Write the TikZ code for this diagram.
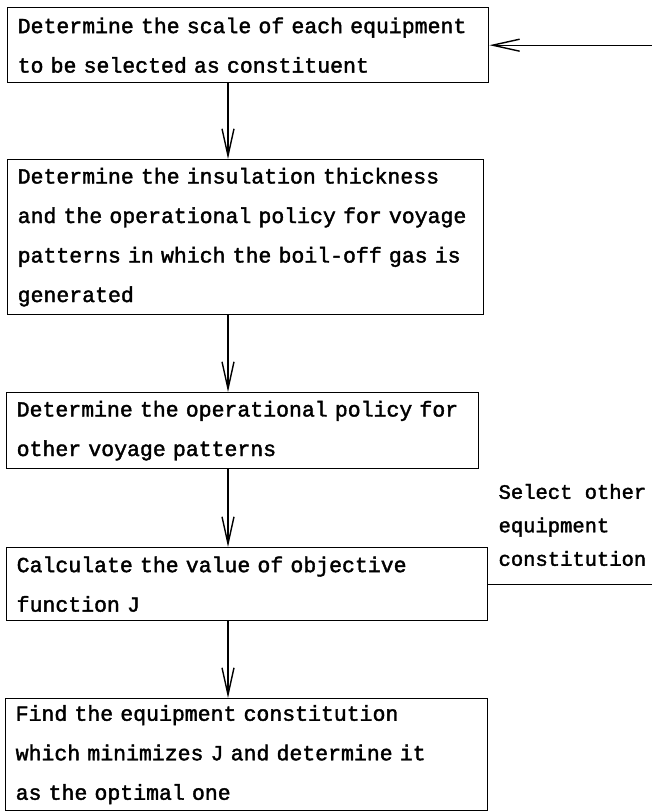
\documentclass[tikz,border=0pt]{standalone}
\usepackage{fontspec}
\usetikzlibrary{arrows.meta}
\newfontfamily\flowmono{Liberation Mono}[FakeBold=1.8]
\newcommand\boxfont{\flowmono\fontsize{21.5}{39.5}\selectfont\spaceskip=0.6em\relax}
\newcommand\notefont{\flowmono\fontsize{20.5}{33.5}\selectfont}
\tikzset{
  stepbox/.style={draw, line width=1.4pt, rectangle, anchor=north west,
    inner xsep=10pt, inner ysep=0pt, font=\boxfont},
  flow/.style={line width=1.4pt, -{Straight Barb[length=27pt,width=12pt]}},
}
\begin{document}
\begin{tikzpicture}[x=1pt, y=-1pt]
  \useasboundingbox (0,0) rectangle (652,811);
  \coordinate (spine) at (228,0);
  \coordinate (loop) at (662,0);
  % Steps
  \node[stepbox, text width=461pt, minimum height=75pt] (scale) at (7,7)
    {Determine the scale of each equipment\\to be selected as constituent};
  \node[stepbox, text width=456pt, minimum height=155pt] (insul) at (7,159)
    {Determine the insulation thickness\\and the operational policy for voyage\\patterns in which the boil-off gas is\\generated};
  \node[stepbox, text width=452pt, minimum height=76pt] (other) at (6,392)
    {Determine the operational policy for\\other voyage patterns};
  \node[stepbox, text width=461pt, minimum height=73pt] (objfn) at (6,547)
    {Calculate the value of objective\\function J};
  \node[stepbox, text width=462pt, minimum height=112pt] (optim) at (5,698)
    {Find the equipment constitution\\which minimizes J and determine it\\as the optimal one};
  % Arrows down
  \draw[flow] (scale.south -| spine) -- (insul.north -| spine);
  \draw[flow] (insul.south -| spine) -- (other.north -| spine);
  \draw[flow] (other.south -| spine) -- (objfn.north -| spine);
  \draw[flow] (objfn.south -| spine) -- (optim.north -| spine);
  % Feedback loop (runs off the right edge)
  \draw[flow] (objfn.east) -| (loop) |- (scale.east);
  \node[anchor=south west, inner sep=0pt, align=left, font=\notefont] (select)
    at ([shift={(10,-18)}]objfn.east) {Select other\\equipment\\constitution};
\end{tikzpicture}
\end{document}
